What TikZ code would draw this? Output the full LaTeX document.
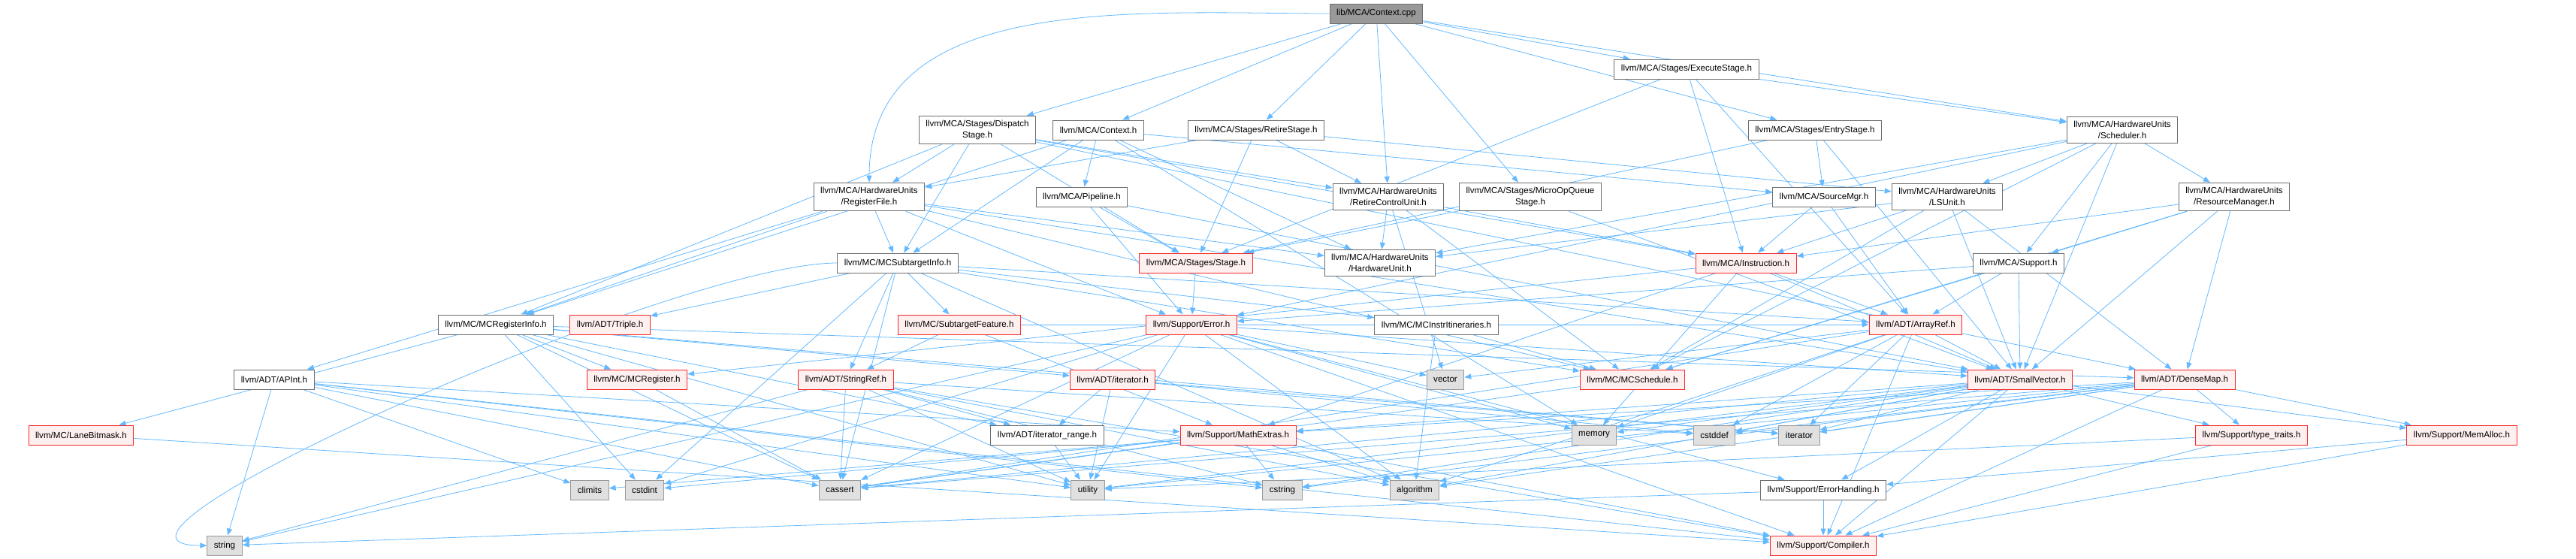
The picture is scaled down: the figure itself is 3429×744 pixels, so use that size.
\documentclass[tikz,border=0pt]{standalone}
\usepackage{fontspec}
\setmainfont{Liberation Sans}
\usepackage{xcolor}
\usepackage{tikz}
\usetikzlibrary{arrows.meta,backgrounds}
\definecolor{EdgeBlue}{RGB}{99,184,255}
\definecolor{FileGray}{RGB}{110,110,110}
\definecolor{SysGray}{RGB}{153,153,153}
\definecolor{SysFill}{RGB}{224,224,224}
\definecolor{TruncRed}{RGB}{245,40,40}
\definecolor{TruncFill}{RGB}{255,240,240}
\definecolor{RootFill}{RGB}{153,153,153}

\begin{document}
\begin{tikzpicture}[
  x=1pt, y=1pt,
  every node/.style={font=\fontsize{11.6}{14.7}\selectfont, align=center},
  file/.style={draw=FileGray, fill=white, line width=1pt, inner xsep=9pt, inner ysep=6pt, minimum height=26pt},
  trunc/.style={file, draw=TruncRed, fill=TruncFill},
  sys/.style={file, draw=SysGray, fill=SysFill},
  root/.style={file, fill=RootFill},
  edge/.style={draw=EdgeBlue, line width=0.8pt, -{Triangle[length=9pt,width=7pt]}}
]
\useasboundingbox (0,0) rectangle (3429,-744);

% top rows
\node[root] (cpp) at (1832,-18) {lib/MCA/Context.cpp};
\node[file] (exec) at (2245,-92) {llvm/MCA/Stages/ExecuteStage.h};
\node[file] (disp) at (1301,-173) {llvm/MCA/Stages/Dispatch\\Stage.h};
\node[file] (ctxh) at (1462,-173) {llvm/MCA/Context.h};
\node[file] (retst) at (1672,-173) {llvm/MCA/Stages/RetireStage.h};
\node[file] (entry) at (2416,-173) {llvm/MCA/Stages/EntryStage.h};
\node[file] (sched) at (2825,-173) {llvm/MCA/HardwareUnits\\/Scheduler.h};
\node[file] (regfile) at (1157,-262) {llvm/MCA/HardwareUnits\\/RegisterFile.h};
\node[file] (pipe) at (1440,-262) {llvm/MCA/Pipeline.h};
\node[file] (rcu) at (1848,-262) {llvm/MCA/HardwareUnits\\/RetireControlUnit.h};
\node[file] (muop) at (2037,-262) {llvm/MCA/Stages/MicroOpQueue\\Stage.h};
\node[file] (srcmgr) at (2428,-262) {llvm/MCA/SourceMgr.h};
\node[file] (lsu) at (2592,-262) {llvm/MCA/HardwareUnits\\/LSUnit.h};
\node[file] (resmgr) at (2974,-262) {llvm/MCA/HardwareUnits\\/ResourceManager.h};
\node[file] (subinfo) at (1195,-350) {llvm/MC/MCSubtargetInfo.h};
\node[trunc] (stage) at (1592,-350) {llvm/MCA/Stages/Stage.h};
\node[file] (hwunit) at (1837,-350) {llvm/MCA/HardwareUnits\\/HardwareUnit.h};
\node[trunc] (instr) at (2324,-350) {llvm/MCA/Instruction.h};
\node[file] (support) at (2687,-350) {llvm/MCA/Support.h};

% middle rows
\node[file] (reginfo) at (660,-432) {llvm/MC/MCRegisterInfo.h};
\node[trunc] (triple) at (812,-432) {llvm/ADT/Triple.h};
\node[trunc] (subfeat) at (1277,-432) {llvm/MC/SubtargetFeature.h};
\node[trunc] (error) at (1586,-432) {llvm/Support/Error.h};
\node[file] (itin) at (1912,-432) {llvm/MC/MCInstrItineraries.h};
\node[trunc] (arrayref) at (2550,-432) {llvm/ADT/ArrayRef.h};
\node[file] (apint) at (365,-505) {llvm/ADT/APInt.h};
\node[trunc] (mcreg) at (848,-505) {llvm/MC/MCRegister.h};
\node[trunc] (strref) at (1126,-505) {llvm/ADT/StringRef.h};
\node[trunc] (iter) at (1481,-505) {llvm/ADT/iterator.h};
\node[sys] (vector) at (1924,-505) {vector};
\node[trunc] (mcsched) at (2173,-505) {llvm/MC/MCSchedule.h};
\node[trunc] (smallvec) at (2689,-505) {llvm/ADT/SmallVector.h};
\node[trunc] (densemap) at (2908,-505) {llvm/ADT/DenseMap.h};
\node[trunc] (lane) at (108,-579) {llvm/MC/LaneBitmask.h};
\node[file] (iterrange) at (1394,-579) {llvm/ADT/iterator\_range.h};
\node[trunc] (mathext) at (1648,-579) {llvm/Support/MathExtras.h};
\node[sys] (memory) at (2122,-579) {memory};
\node[sys] (cstddef) at (2282,-579) {cstddef};
\node[sys] (iterator) at (2395,-579) {iterator};
\node[trunc] (typetraits) at (2997,-579) {llvm/Support/type\_traits.h};
\node[trunc] (memalloc) at (3277,-579) {llvm/Support/MemAlloc.h};

% bottom rows
\node[sys] (climits) at (785,-652) {climits};
\node[sys] (cstdint) at (858,-652) {cstdint};
\node[sys] (cassert) at (1118,-652) {cassert};
\node[sys] (utility) at (1448,-652) {utility};
\node[sys] (cstring) at (1707,-652) {cstring};
\node[sys] (algorithm) at (1883,-652) {algorithm};
\node[file] (errhand) at (2427,-652) {llvm/Support/ErrorHandling.h};
\node[sys] (string) at (299,-726) {string};
\node[trunc] (compiler) at (2427,-726) {llvm/Support/Compiler.h};

\begin{scope}[on background layer]
% Context.cpp
\draw[edge] (cpp) -- (disp);
\draw[edge] (cpp) -- (ctxh);
\draw[edge] (cpp) -- (retst);
\draw[edge] (cpp) to[out=180,in=90] (regfile);
\draw[edge] (cpp) -- (rcu);
\draw[edge] (cpp) -- (muop);
\draw[edge] (cpp) -- (exec);
\draw[edge] (cpp) -- (entry);
\draw[edge] (cpp) -- (sched);
% stages
\draw[edge] (exec) -- (sched);
\draw[edge] (exec) -- (instr);
\draw[edge] (exec) -- (stage);
\draw[edge] (exec) -- (arrayref);
\draw[edge] (disp) -- (reginfo);
\draw[edge] (disp) -- (subinfo);
\draw[edge] (disp) -- (regfile);
\draw[edge] (disp) -- (rcu);
\draw[edge] (disp) -- (instr);
\draw[edge] (disp) -- (stage);
\draw[edge] (disp) -- (densemap);
\draw[edge] (ctxh) -- (reginfo);
\draw[edge] (ctxh) -- (subinfo);
\draw[edge] (ctxh) -- (pipe);
\draw[edge] (ctxh) -- (hwunit);
\draw[edge] (ctxh) -- (srcmgr);
\draw[edge] (ctxh) -- (memory);
\draw[edge] (retst) -- (regfile);
\draw[edge] (retst) -- (rcu);
\draw[edge] (retst) -- (lsu);
\draw[edge] (retst) -- (stage);
\draw[edge] (entry) -- (srcmgr);
\draw[edge] (entry) -- (stage);
\draw[edge] (entry) -- (smallvec);
\draw[edge] (muop) -- (stage);
\draw[edge] (muop) -- (smallvec);
\draw[edge] (pipe) -- (stage);
\draw[edge] (pipe) -- (error);
\draw[edge] (pipe) -- (smallvec);
\draw[edge] (stage) -- (error);
% hardware units
\draw[edge] (sched) -- (hwunit);
\draw[edge] (sched) -- (lsu);
\draw[edge] (sched) -- (resmgr);
\draw[edge] (sched) -- (support);
\draw[edge] (sched) -- (mcsched);
\draw[edge] (sched) -- (smallvec);
\draw[edge] (sched) -- (error);
\draw[edge] (regfile) -- (apint);
\draw[edge] (regfile) -- (reginfo);
\draw[edge] (regfile) -- (subinfo);
\draw[edge] (regfile) -- (hwunit);
\draw[edge] (regfile) -- (mcsched);
\draw[edge] (regfile) -- (smallvec);
\draw[edge] (regfile) -- (error);
\draw[edge] (rcu) -- (hwunit);
\draw[edge] (rcu) -- (instr);
\draw[edge] (rcu) -- (mcsched);
\draw[edge] (rcu) -- (vector);
\draw[edge] (srcmgr) -- (instr);
\draw[edge] (srcmgr) -- (arrayref);
\draw[edge] (lsu) -- (hwunit);
\draw[edge] (lsu) -- (instr);
\draw[edge] (lsu) -- (mcsched);
\draw[edge] (lsu) -- (smallvec);
\draw[edge] (lsu) -- (densemap);
\draw[edge] (resmgr) -- (instr);
\draw[edge] (resmgr) -- (support);
\draw[edge] (resmgr) -- (mcsched);
\draw[edge] (resmgr) -- (smallvec);
\draw[edge] (resmgr) -- (densemap);
\draw[edge] (instr) -- (arrayref);
\draw[edge] (instr) -- (smallvec);
\draw[edge] (instr) -- (mcreg);
\draw[edge] (instr) -- (mathext);
\draw[edge] (instr) -- (memory);
\draw[edge] (support) -- (arrayref);
\draw[edge] (support) -- (smallvec);
\draw[edge] (support) -- (mcsched);
\draw[edge] (support) -- (error);
% MC
\draw[edge] (subinfo) -- (triple);
\draw[edge] (subinfo) -- (subfeat);
\draw[edge] (subinfo) -- (itin);
\draw[edge] (subinfo) -- (mcsched);
\draw[edge] (subinfo) -- (arrayref);
\draw[edge] (subinfo) -- (strref);
\draw[edge] (subinfo) -- (algorithm);
\draw[edge] (subinfo) -- (cassert);
\draw[edge] (subinfo) -- (cstdint);
\draw[edge] (subinfo) to[out=180,in=180,looseness=0.6] (string);
\draw[edge] (reginfo) -- (lane);
\draw[edge] (reginfo) -- (mcreg);
\draw[edge] (reginfo) -- (iter);
\draw[edge] (reginfo) -- (iterrange);
\draw[edge] (reginfo) -- (densemap);
\draw[edge] (reginfo) -- (cassert);
\draw[edge] (reginfo) -- (cstdint);
\draw[edge] (reginfo) -- (iterator);
\draw[edge] (reginfo) -- (utility);
\draw[edge] (subfeat) -- (strref);
\draw[edge] (subfeat) -- (mathext);
\draw[edge] (subfeat) -- (arrayref);
\draw[edge] (itin) -- (mcsched);
\draw[edge] (itin) -- (algorithm);
\draw[edge] (mcreg) -- (cassert);
\draw[edge] (mcsched) -- (cassert);
\draw[edge] (lane) -- (compiler);
% Support
\draw[edge] (error) -- (smallvec);
\draw[edge] (error) -- (compiler);
\draw[edge] (error) -- (errhand);
\draw[edge] (error) -- (algorithm);
\draw[edge] (error) -- (cassert);
\draw[edge] (error) -- (cstdint);
\draw[edge] (error) -- (memory);
\draw[edge] (error) -- (string);
\draw[edge] (error) -- (utility);
\draw[edge] (error) -- (vector);
\draw[edge] (mathext) -- (compiler);
\draw[edge] (mathext) -- (cassert);
\draw[edge] (mathext) -- (climits);
\draw[edge] (mathext) -- (cstdint);
\draw[edge] (mathext) -- (cstring);
\draw[edge] (mathext) -- (algorithm);
\draw[edge] (typetraits) -- (compiler);
\draw[edge] (typetraits) -- (utility);
\draw[edge] (memalloc) -- (compiler);
\draw[edge] (memalloc) -- (errhand);
\draw[edge] (errhand) -- (compiler);
\draw[edge] (errhand) -- (string);
% ADT
\draw[edge] (arrayref) -- (smallvec);
\draw[edge] (arrayref) -- (compiler);
\draw[edge] (arrayref) -- (algorithm);
\draw[edge] (arrayref) -- (cassert);
\draw[edge] (arrayref) -- (cstddef);
\draw[edge] (arrayref) -- (iterator);
\draw[edge] (arrayref) -- (memory);
\draw[edge] (arrayref) -- (vector);
\draw[edge] (apint) -- (compiler);
\draw[edge] (apint) -- (mathext);
\draw[edge] (apint) -- (cassert);
\draw[edge] (apint) -- (climits);
\draw[edge] (apint) -- (cstring);
\draw[edge] (apint) -- (utility);
\draw[edge] (apint) -- (string);
\draw[edge] (strref) -- (iterrange);
\draw[edge] (strref) -- (compiler);
\draw[edge] (strref) -- (algorithm);
\draw[edge] (strref) -- (cassert);
\draw[edge] (strref) -- (cstddef);
\draw[edge] (strref) -- (cstring);
\draw[edge] (strref) -- (string);
\draw[edge] (strref) -- (utility);
\draw[edge] (iter) -- (iterrange);
\draw[edge] (iter) -- (cstddef);
\draw[edge] (iter) -- (iterator);
\draw[edge] (iter) -- (utility);
\draw[edge] (iterrange) -- (utility);
\draw[edge] (smallvec) -- (compiler);
\draw[edge] (smallvec) -- (errhand);
\draw[edge] (smallvec) -- (typetraits);
\draw[edge] (smallvec) -- (memalloc);
\draw[edge] (smallvec) -- (mathext);
\draw[edge] (smallvec) -- (algorithm);
\draw[edge] (smallvec) -- (cassert);
\draw[edge] (smallvec) -- (cstddef);
\draw[edge] (smallvec) -- (cstring);
\draw[edge] (smallvec) -- (iterator);
\draw[edge] (smallvec) -- (memory);
\draw[edge] (smallvec) -- (utility);
\draw[edge] (densemap) -- (compiler);
\draw[edge] (densemap) -- (mathext);
\draw[edge] (densemap) -- (memalloc);
\draw[edge] (densemap) -- (typetraits);
\draw[edge] (densemap) -- (algorithm);
\draw[edge] (densemap) -- (cassert);
\draw[edge] (densemap) -- (cstddef);
\draw[edge] (densemap) -- (cstring);
\draw[edge] (densemap) -- (iterator);
\draw[edge] (densemap) -- (utility);
\end{scope}
\end{tikzpicture}
\end{document}
